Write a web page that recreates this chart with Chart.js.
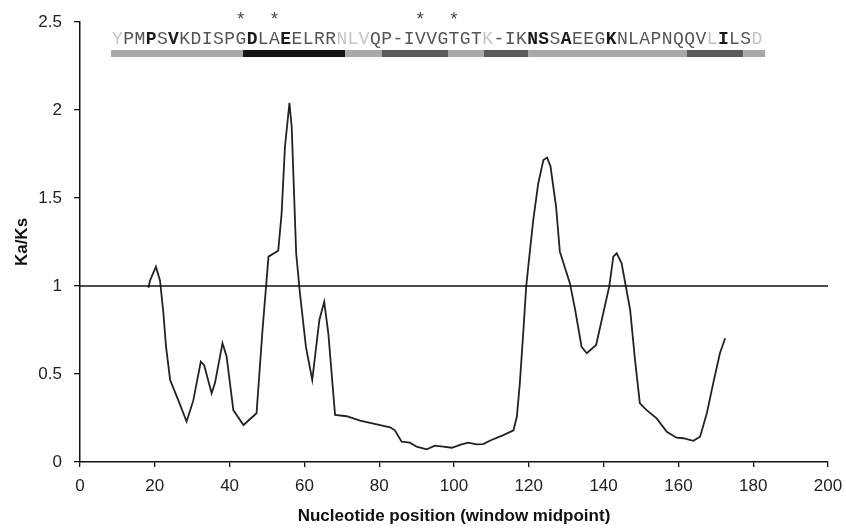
<!DOCTYPE html>
<html>
<head>
<meta charset="utf-8">
<script src="https://cdn.jsdelivr.net/npm/chart.js@4/dist/chart.umd.min.js"></script>
<style>
  body { margin: 0; background: #fff; }
  #wrap { width: 846px; height: 529px; }
</style>
</head>
<body>
<div id="wrap"><canvas id="kaksChart" width="846" height="529"></canvas></div>
<script>
// 窗口中点位置 (nucleotide) 与 Ka/Ks 值
const positions = [18.3, 18.7, 20.3, 21.4, 22.3, 23.0, 24.1, 26.3, 28.5, 30.3,
  32.3, 33.2, 35.2, 36.1, 38.1, 39.2, 41.0, 43.7, 47.2, 48.8,
  50.4, 53.0, 53.9, 54.8, 56.0, 56.6, 57.8, 58.8, 60.4, 62.1,
  64.0, 65.3, 66.4, 68.2, 71.3, 74.9, 82.9, 84.2, 86.0, 88.2,
  90.0, 92.7, 94.9, 97.1, 99.4, 102.0, 103.8, 106.0, 107.8, 110.0,
  113.2, 115.9, 116.8, 117.6, 118.5, 119.3, 120.3, 121.2, 122.5, 123.9,
  124.9, 125.8, 127.3, 128.3, 131.0, 132.4, 134.1, 135.5, 138.0, 139.5,
  141.5, 142.6, 143.5, 144.8, 147.1, 148.4, 149.7, 151.5, 154.2, 156.9,
  159.5, 161.3, 164.0, 165.8, 167.6, 169.3, 171.1, 172.5];
const kaks = [0.99, 1.03, 1.11, 1.03, 0.845, 0.655, 0.466, 0.35, 0.23, 0.35,
  0.57, 0.55, 0.39, 0.45, 0.675, 0.6, 0.295, 0.21, 0.277, 0.75,
  1.167, 1.2, 1.41, 1.79, 2.04, 1.905, 1.186, 0.96, 0.655, 0.466,
  0.807, 0.91, 0.73, 0.267, 0.26, 0.235, 0.197, 0.18, 0.115, 0.11,
  0.087, 0.072, 0.093, 0.087, 0.081, 0.1, 0.11, 0.1, 0.102, 0.125,
  0.153, 0.18, 0.257, 0.447, 0.73, 0.996, 1.2, 1.375, 1.58, 1.716,
  1.73, 1.68, 1.45, 1.195, 1.015, 0.864, 0.655, 0.618, 0.665, 0.807,
  0.996, 1.167, 1.186, 1.13, 0.864, 0.58, 0.333, 0.295, 0.248, 0.172,
  0.138, 0.135, 0.12, 0.144, 0.277, 0.447, 0.618, 0.703];

// Ka/Ks = 1 参考线
const refX = [0, 200];
const refY = [1, 1];

// 坐标轴刻度
const xTicks = [0, 20, 40, 60, 80, 100, 120, 140, 160, 180, 200];
const yTicks = [0, 0.5, 1, 1.5, 2, 2.5];
const yTickLabels = ["0", "0.5", "1", "1.5", "2", "2.5"];

// 顶部蛋白序列 (每个残基 3 个核苷酸)
const sequence = "YPMPSVKDISPGDLAEELRRNLVQP-IVVGTGTK-IKNSSAEEGKNLAPNQQVLILSD";
const seqStart = 8.5;
const boldResidues = [3, 5, 12, 15, 37, 38, 40, 44, 54];
const faintResidues = [0, 20, 21, 22, 33, 53, 57];
const starResidues = [11, 14, 27, 30];

// 结构区段 (核苷酸坐标)
const segBounds = [8.3, 43.6, 70.9, 80.7, 98.4, 108.0, 119.8, 162.3, 177.3, 183.2];
const segClass = ["light", "black", "light", "dark", "light", "dark", "light", "dark", "light"];

const segColors = { light: "#a9a9a9", black: "#151515", dark: "#5a5a5a" };
const axisFont = "'Liberation Sans', Arial, sans-serif";

// 绘制序列、星号和区段条
const sequencePlugin = {
  id: "sequence",
  afterDatasetsDraw(chart) {
    const ctx = chart.ctx;
    const xs = chart.scales.x;
    ctx.save();

    // 区段条
    for (let i = 0; i < segClass.length; i++) {
      const x0 = xs.getPixelForValue(segBounds[i]);
      const x1 = xs.getPixelForValue(segBounds[i + 1]);
      ctx.fillStyle = segColors[segClass[i]];
      ctx.fillRect(x0, 50, x1 - x0, 7);
    }

    // 序列字母
    ctx.textAlign = "center";
    ctx.textBaseline = "alphabetic";
    for (let i = 0; i < sequence.length; i++) {
      const cx = xs.getPixelForValue(seqStart + 3 * i + 1.5);
      let weight = "normal";
      let color = "#555";
      if (boldResidues.includes(i)) {
        weight = "bold";
        color = "#1a1a1a";
      } else if (faintResidues.includes(i)) {
        color = "#c4c4c4";
      }
      ctx.font = weight + " 18px 'Liberation Mono', 'Courier New', monospace";
      ctx.fillStyle = color;
      ctx.fillText(sequence[i], cx, 44);
    }

    // 星号
    ctx.font = "18px " + axisFont;
    ctx.fillStyle = "#444";
    starResidues.forEach((i) => {
      const cx = xs.getPixelForValue(seqStart + 3 * i + 1.5);
      ctx.fillText("*", cx, 25);
    });

    ctx.restore();
  },
};

const ctx = document.getElementById("kaksChart").getContext("2d");

new Chart(ctx, {
  type: "line",
  data: {
    datasets: [
      {
        label: "Ka/Ks = 1",
        data: refX.map((x, i) => ({ x: x, y: refY[i] })),
        borderColor: "#111",
        borderWidth: 1.4,
        pointRadius: 0,
      },
      {
        label: "Ka/Ks",
        data: positions.map((x, i) => ({ x: x, y: kaks[i] })),
        borderColor: "#222",
        borderWidth: 1.8,
        pointRadius: 0,
        tension: 0,
      },
    ],
  },
  options: {
    responsive: false,
    animation: false,
    layout: { padding: { top: 22, right: 18, left: 0, bottom: 0 } },
    plugins: {
      legend: { display: false },
      tooltip: { enabled: false },
    },
    scales: {
      x: {
        type: "linear",
        min: 0,
        max: 200,
        afterBuildTicks: (scale) => {
          scale.ticks = xTicks.map((v) => ({ value: v }));
        },
        afterFit: (scale) => {
          scale.height = 67;
          scale.paddingLeft = 0;
          scale.paddingRight = 0;
        },
        grid: {
          drawOnChartArea: false,
          tickLength: 5,
          color: "#111",
          lineWidth: 1.3,
        },
        border: { color: "#111", width: 1.5 },
        ticks: {
          color: "#222",
          padding: 9,
          maxRotation: 0,
          font: { family: axisFont, size: 17 },
        },
        title: {
          display: true,
          text: "Nucleotide position (window midpoint)",
          color: "#111",
          padding: 2,
          font: { family: axisFont, size: 17, weight: "bold" },
        },
      },
      y: {
        min: 0,
        max: 2.5,
        afterBuildTicks: (scale) => {
          scale.ticks = yTicks.map((v) => ({ value: v }));
        },
        afterFit: (scale) => {
          scale.width = 80;
          scale.paddingTop = 0;
          scale.paddingBottom = 0;
        },
        grid: {
          drawOnChartArea: false,
          tickLength: 6,
          color: "#111",
          lineWidth: 1.3,
        },
        border: { color: "#111", width: 1.5 },
        ticks: {
          color: "#222",
          padding: 12,
          font: { family: axisFont, size: 17 },
          callback: (value, index) => yTickLabels[index],
        },
        title: {
          display: true,
          text: "Ka/Ks",
          color: "#111",
          padding: 12,
          font: { family: axisFont, size: 17, weight: "bold" },
        },
      },
    },
  },
  plugins: [sequencePlugin],
});
</script>
</body>
</html>
